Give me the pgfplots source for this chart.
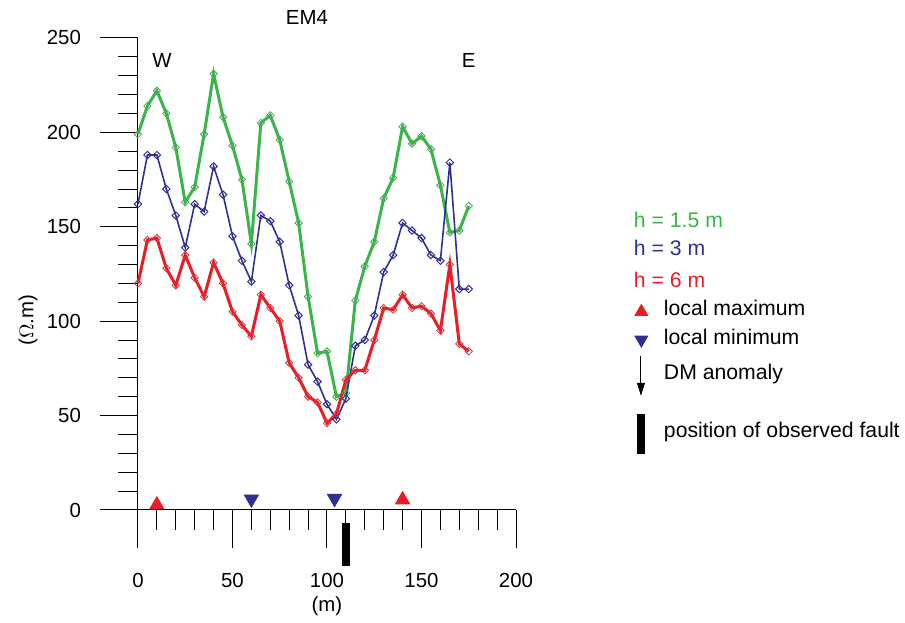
\documentclass[border=0pt]{standalone}
\usepackage{fontspec}
\setmainfont{Liberation Sans}
\usepackage{pgfplots}
\usepackage{pgfplotstable}
\pgfplotsset{compat=1.18}
\usetikzlibrary{arrows.meta}

\definecolor{emgreen}{RGB}{57,181,74}
\definecolor{emblue}{RGB}{46,49,146}
\definecolor{emred}{RGB}{237,28,36}

% apparent resistivity along EM4, one table per coil height
\pgfplotstableread{
x y
0 199
5 214
10 222
15 210
20 192
25 163
30 171
35 199
40 231
45 208
50 193
55 175
60 141
65 205
70 209
75 196
80 174
85 152
90 113
95 83
100 84
105 60
110 62
115 111
120 129
125 142
130 165
135 176
140 203
145 194
150 198
155 191
160 172
165 147
170 148
175 161
}\hone

\pgfplotstableread{
x y
0 162
5 188
10 188
15 170
20 156
25 139
30 162
35 158
40 182
45 167
50 145
55 132
60 121
65 156
70 153
75 142
80 119
85 103
90 77
95 68
100 56
105 48
110 59
115 87
120 90
125 103
130 126
135 135
140 152
145 148
150 144
155 135
160 132
165 184
170 117
175 117
}\hthree

\pgfplotstableread{
x y
0 120
5 143
10 144
15 128
20 119
25 135
30 123
35 113
40 131
45 120
50 105
55 98
60 92
65 114
70 107
75 100
80 78
85 70
90 60
95 57
100 46
105 51
110 69
115 74
120 74
125 90
130 107
135 106
140 114
145 107
150 108
155 104
160 95
165 130
170 88
175 84
}\hsix

\begin{document}
\begin{tikzpicture}
\begin{axis}[
    scale only axis,
    width=189pt, height=236pt,
    xmin=0, xmax=200, ymin=0, ymax=250,
    axis lines=left,
    axis line style={-, black, line width=0.5pt},
    clip=false,
    tick align=outside,
    xtick={0,50,...,200},
    minor xtick={10,20,30,40,60,70,80,90,110,120,130,140,160,170,180,190},
    ytick={0,50,...,250},
    minor ytick={10,20,30,40,60,70,80,90,110,120,130,140,160,170,180,190,210,220,230,240},
    major tick length=19pt,
    minor tick length=10pt,
    every tick/.style={black, line width=0.5pt},
    /pgf/number format/assume math mode=true,
    ticklabel style={font=\fontsize{10.2}{12}\selectfont},
    xticklabel style={yshift=-9pt},
    yticklabel style={xshift=-6pt},
    legend style={at={(axis cs:262.4,159)}, anchor=north west,
        draw=none, fill=none, inner sep=0pt, outer sep=0pt,
        row sep=0pt, font=\fontsize{10.6}{12}\selectfont,
        nodes={inner sep=1pt}},
    legend cell align=left,
]
\addplot[emgreen, line width=1.5pt, mark=square, mark size=1.3pt,
    mark options={rotate=45, fill=white, draw=emgreen!70!gray, line width=0.4pt}, forget plot]
    table[x=x, y=y] {\hone};
\addplot[emblue, line width=0.8pt, mark=square, mark size=1.3pt,
    mark options={rotate=45, fill=white, draw=emblue, line width=0.5pt}, forget plot]
    table[x=x, y=y] {\hthree};
\addplot[emred, line width=1.5pt, mark=square, mark size=1.3pt,
    mark options={rotate=45, fill=white, draw=emred!70!gray, line width=0.4pt}, forget plot]
    table[x=x, y=y] {\hsix};

% local maxima / minima along the profile
\addplot[only marks, mark=triangle*, mark size=4.1pt, emred, forget plot]
    coordinates {(10,2.7) (140,5.4)};
\addplot[only marks, mark=triangle*, mark size=4.1pt, emblue,
    mark options={rotate=180}, forget plot]
    coordinates {(60,5.8) (104,6.1)};

% observed fault
\addplot[black, line width=4pt, forget plot] coordinates {(110,-6.7) (110,-29.5)};

% y axis runs on below zero
\draw[black, line width=0.5pt] (axis cs:0,0) -- (axis cs:0,-20);

\addlegendimage{legend image code/.code={\path[draw=none, fill=none] (0pt,-7pt) rectangle (14pt,6pt);
    \node[overlay, anchor=west, inner sep=0pt, text=emgreen] at (0pt,0pt) {h = 1.5 m};}}
\addlegendentry{}
\addlegendimage{legend image code/.code={\path[draw=none, fill=none] (0pt,-8pt) rectangle (14pt,7pt);
    \node[overlay, anchor=west, inner sep=0pt, text=emblue] at (0pt,0pt) {h = 3 m};}}
\addlegendentry{}
\addlegendimage{legend image code/.code={\path[draw=none, fill=none] (0pt,-6pt) rectangle (14pt,8pt);
    \node[overlay, anchor=west, inner sep=0pt, text=emred] at (0pt,0pt) {h = 6 m};}}
\addlegendentry{}
\addlegendimage{legend image code/.code={\path[draw=none, fill=none] (0pt,-6.5pt) rectangle (14pt,8pt);
    \fill[emred, draw=none] (3.7pt,-1pt) +(90:4.1pt) -- +(210:4.1pt) -- +(330:4.1pt) -- cycle;}}
\addlegendentry{local maximum}
\addlegendimage{legend image code/.code={\path[draw=none, fill=none] (0pt,-7.5pt) rectangle (14pt,8pt);
    \fill[emblue, draw=none] (3.7pt,-0.5pt) +(270:4.1pt) -- +(30:4.1pt) -- +(150:4.1pt) -- cycle;}}
\addlegendentry{local minimum}
\addlegendimage{legend image code/.code={\path[draw=none, fill=none] (0pt,-10pt) rectangle (14pt,10pt);
    \draw[black, line width=0.5pt, -{Triangle[length=6.5pt, width=4pt]}] (3.5pt,9pt) -- (3.5pt,-11pt);}}
\addlegendentry{DM anomaly}
\addlegendimage{legend image code/.code={\path[draw=none, fill=none] (0pt,-12pt) rectangle (14pt,17.5pt);
    \fill[black, draw=none] (1.5pt,8.5pt) rectangle (5.5pt,-11.5pt);}}
\addlegendentry{position of observed fault}

\node[font=\fontsize{10.2}{12}\selectfont] at (axis cs:89.4,261) {EM4};
\node[font=\fontsize{10.2}{12}\selectfont] at (axis cs:12.7,238) {W};
\node[font=\fontsize{10.2}{12}\selectfont] at (axis cs:175,238) {E};
\node[font=\fontsize{10.2}{12}\selectfont, rotate=90] at (axis cs:-58.2,100.6) {($\Omega$.m)};
\node[font=\fontsize{10.2}{12}\selectfont] at (axis cs:100,-51) {(m)};

% fixes the page to the reference proportions
\path (axis cs:-73,270.1) rectangle (axis cs:405.8,-57.7);
\end{axis}
\end{tikzpicture}
\end{document}
